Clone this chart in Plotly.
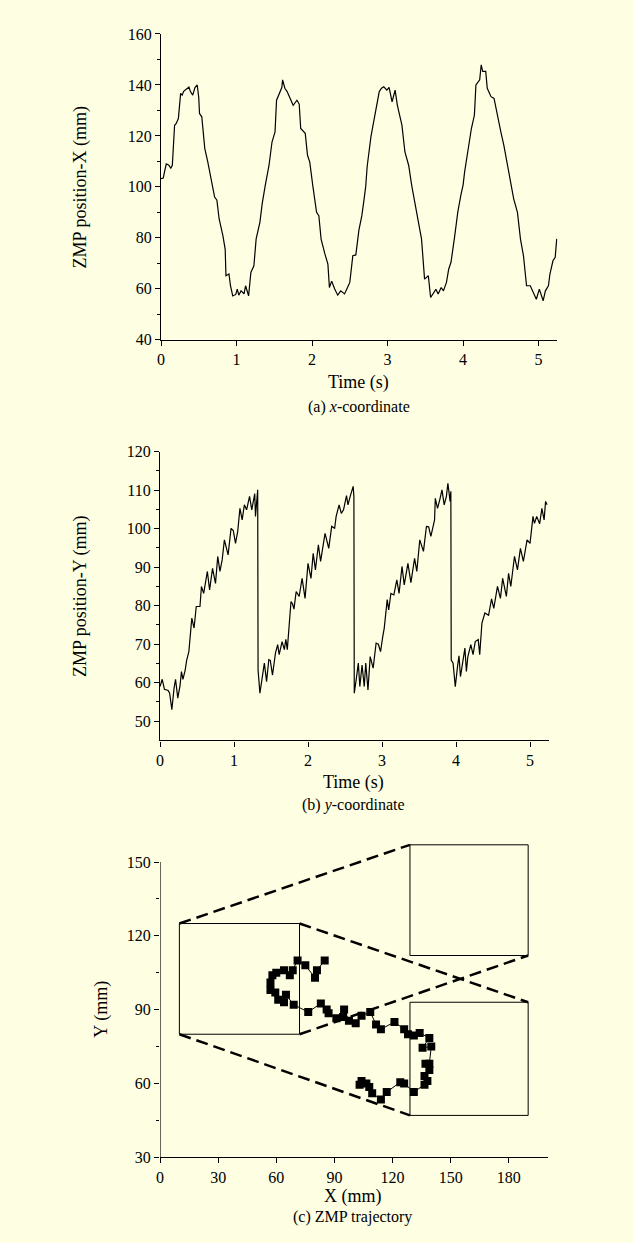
import plotly.graph_objects as go

# ---------------- data ----------------
t_x = [0.00,0.03,0.05,0.07,0.10,0.13,0.15,0.18,0.20,0.23,0.26,0.28,0.30,0.34,0.37,0.39,0.42,0.45,0.48,0.50,
       0.51,0.54,0.58,0.62,0.66,0.69,0.71,0.74,0.77,0.82,0.85,0.86,0.90,0.92,0.95,0.99,1.01,1.03,1.06,1.10,
       1.12,1.16,1.19,1.23,1.26,1.31,1.34,1.38,1.43,1.47,1.51,1.53,1.58,1.60,1.61,1.64,1.67,1.71,1.75,1.80,
       1.83,1.85,1.91,1.94,1.97,2.01,2.06,2.09,2.12,2.17,2.21,2.23,2.26,2.30,2.34,2.38,2.43,2.47,2.50,2.54,
       2.58,2.62,2.66,2.69,2.71,2.73,2.78,2.82,2.86,2.89,2.92,2.95,2.99,3.02,3.06,3.10,3.13,3.17,3.19,3.23,
       3.28,3.32,3.37,3.41,3.45,3.49,3.54,3.57,3.61,3.64,3.67,3.71,3.74,3.78,3.81,3.84,3.89,3.93,3.97,4.00,
       4.02,4.07,4.11,4.15,4.17,4.22,4.24,4.26,4.30,4.32,4.37,4.41,4.46,4.50,4.54,4.59,4.63,4.67,4.72,4.76,
       4.80,4.84,4.89,4.93,4.97,5.01,5.06,5.09,5.13,5.15,5.19,5.22,5.24]
zmp_x = [103.2,103.5,106.4,109.0,108.6,107.4,108.5,124.2,124.8,126.8,136.7,136.0,137.5,138.7,139.2,137.4,136.0,139.0,140.0,135.0,
         128.8,127.5,115.0,109.7,103.2,99.0,96.0,94.8,87.4,80.8,75.5,65.1,65.8,61.2,57.2,57.8,59.9,57.5,59.2,58.0,
         61.2,57.2,66.4,69.0,79.6,86.2,93.4,100.5,108.4,117.6,121.6,134.0,137.4,139.0,142.0,138.7,137.4,134.7,132.0,134.0,
         132.5,122.9,121.0,112.4,109.7,100.5,90.0,88.7,79.5,73.7,69.7,60.5,63.0,59.9,57.5,59.2,58.0,60.5,62.5,73.0,
         73.3,82.9,88.8,95.4,100.0,108.0,119.7,126.2,132.1,137.4,138.7,139.3,138.0,139.0,133.4,138.0,132.0,126.8,124.2,113.7,
         108.4,100.5,92.6,85.4,79.5,63.8,65.1,56.6,58.5,59.8,58.0,60.5,59.2,62.5,67.8,70.4,80.9,90.1,96.7,100.7,
         105.8,115.0,122.9,128.2,140.0,142.0,147.9,145.3,145.3,138.7,135.4,134.7,126.8,121.6,116.3,108.4,100.5,95.3,90.0,79.5,
         72.9,61.2,61.2,58.6,55.9,59.9,55.3,59.2,61.2,65.8,71.0,72.4,79.6]

t_y = [0.00,0.03,0.06,0.11,0.13,0.16,0.19,0.21,0.24,0.27,0.29,0.31,0.34,0.36,0.39,0.41,0.43,0.46,0.49,0.54,
       0.56,0.59,0.64,0.67,0.71,0.75,0.78,0.81,0.84,0.87,0.92,0.96,0.99,1.02,1.05,1.08,1.11,1.14,1.17,1.21,
       1.24,1.28,1.29,1.32,1.325,1.35,1.38,1.41,1.44,1.47,1.49,1.52,1.56,1.59,1.61,1.65,1.68,1.70,1.72,1.75,
       1.77,1.79,1.81,1.84,1.88,1.92,1.96,2.00,2.04,2.07,2.10,2.14,2.17,2.23,2.28,2.32,2.36,2.38,2.42,2.45,
       2.48,2.52,2.54,2.57,2.61,2.62,2.625,2.65,2.68,2.70,2.73,2.76,2.78,2.81,2.84,2.88,2.92,2.95,2.98,3.01,
       3.03,3.07,3.09,3.12,3.16,3.20,3.23,3.27,3.30,3.35,3.39,3.44,3.47,3.51,3.56,3.60,3.63,3.66,3.71,3.72,
       3.75,3.78,3.81,3.84,3.87,3.89,3.92,3.93,3.935,3.96,3.99,4.02,4.04,4.06,4.10,4.12,4.14,4.16,4.20,4.23,
       4.26,4.30,4.32,4.35,4.39,4.44,4.48,4.51,4.56,4.60,4.63,4.68,4.71,4.74,4.79,4.83,4.87,4.91,4.96,5.00,
       5.04,5.06,5.09,5.13,5.16,5.19,5.21,5.23]
zmp_y = [59.0,60.9,58.3,58.0,57.3,53.0,58.6,60.9,56.0,59.2,62.9,60.9,63.3,65.8,68.1,73.9,76.8,74.2,79.8,79.8,
         85.0,83.2,88.9,84.1,89.7,85.8,92.8,88.9,91.9,97.1,93.2,100.1,99.5,96.2,99.3,105.3,102.3,106.2,104.9,108.4,
         104.9,109.1,103.2,110.1,63.3,57.3,61.6,65.1,60.3,66.0,65.8,62.0,67.7,69.9,67.3,70.7,68.6,71.3,68.6,77.7,
         81.1,80.5,79.1,83.7,82.4,87.1,81.9,91.0,87.1,93.6,89.3,95.8,91.5,98.8,94.9,100.6,100.1,103.2,106.2,104.0,
         104.9,108.6,106.2,108.4,111.0,108.4,57.3,60.7,65.1,59.0,64.6,59.0,65.1,58.1,66.8,63.8,70.3,70.0,68.1,72.0,
         74.2,81.6,78.9,83.2,82.8,86.7,83.2,90.2,85.4,91.0,86.0,92.3,88.9,97.1,94.1,100.6,100.5,98.0,102.3,107.9,
         105.3,107.5,110.1,106.2,108.4,111.8,107.1,109.7,65.9,65.1,59.0,64.2,67.0,61.6,65.9,69.0,62.9,66.8,69.9,67.3,
         70.7,71.2,67.3,75.5,78.1,77.5,81.8,79.3,85.0,81.9,87.1,82.4,88.4,85.0,92.8,89.3,94.9,91.5,97.1,96.2,
         103.2,101.4,103.2,101.3,105.3,102.3,107.1,106.2]

traj_x = [85,81,80,75,71,68.5,67,64,60,58,57,57,59.5,61,64,65,69,76.5,83,86,87,91,94.5,95,97.5,101,104,108.5,
          111.5,114,121,126,128,131,134,139,135.5,140,139,137,139,136.5,138,136.5,131,126,124,117,114,109.5,108,106.5,104,103]
traj_y = [110,106,103,108,110,106,104,106,105,104,101,98,97,94,93,96,92,89,92.5,90,88.5,86.5,87,90,85.5,84.5,87.5,89,
          84,82,85,82,80,79.5,80.5,78.5,74.5,75,68,68,65.5,63,61,59.5,56.5,60,60.5,56.5,53.5,56,58.5,60,61,59.5]

# zoom-box outlines and the dashed connectors of panel (c)
boxes = [(10, 80, 72, 125), (129, 112, 190, 157), (129, 47, 190, 93)]
connectors = [((10, 125), (129, 157)), ((72, 125), (190, 93)),
              ((72, 80), (190, 112)), ((10, 80), (129, 47))]

x_ticks_t = [0, 1, 2, 3, 4, 5]
y1_ticks = [40, 60, 80, 100, 120, 140, 160]
y2_ticks = [50, 60, 70, 80, 90, 100, 110, 120]
x3_ticks = [0, 30, 60, 90, 120, 150, 180]
y3_ticks = [30, 60, 90, 120, 150]

# ---------------- figure ----------------
W, H = 633, 1243
BG = '#FEFEE2'
FONT = 'Liberation Serif'

def px_x(p):
    return p / W

def px_y(p):
    # compensate for the slight vertical offset/scale observed in the rendered page
    q = (p - 8) / 0.987
    return 1 - q / H

fig = go.Figure()
fig.add_trace(go.Scatter(x=t_x, y=zmp_x, mode='lines', line=dict(color='black', width=1.2),
                         xaxis='x', yaxis='y', showlegend=False, hoverinfo='skip'))
fig.add_trace(go.Scatter(x=t_y, y=zmp_y, mode='lines', line=dict(color='black', width=1.2),
                         xaxis='x2', yaxis='y2', showlegend=False, hoverinfo='skip'))
fig.add_trace(go.Scatter(x=traj_x, y=traj_y, mode='lines+markers',
                         line=dict(color='black', width=1),
                         marker=dict(symbol='square', size=8, color='black'),
                         xaxis='x3', yaxis='y3', showlegend=False, hoverinfo='skip'))

tickfont = dict(family=FONT, size=16, color='black')
common = dict(showgrid=False, zeroline=False, showline=True, linecolor='black', linewidth=1.2,
              ticks='outside', ticklen=5, tickwidth=1.2, tickcolor='black', tickfont=tickfont)

fig.update_layout(
    width=W, height=H, margin=dict(l=0, r=0, t=0, b=0),
    paper_bgcolor=BG, plot_bgcolor=BG,
    xaxis=dict(domain=[px_x(158), px_x(557)], range=[0, 5.25], anchor='y',
               tickvals=x_ticks_t, **common),
    yaxis=dict(domain=[px_y(340), px_y(34)], range=[40, 160], anchor='x',
               tickvals=y1_ticks,
               minor=dict(tickvals=[50, 70, 90, 110, 130, 150], ticks='outside', ticklen=3,
                          tickcolor='black', tickwidth=1.2),
               **common),
    xaxis2=dict(domain=[px_x(157), px_x(548)], range=[0, 5.25], anchor='y2',
                tickvals=x_ticks_t, **common),
    yaxis2=dict(domain=[px_y(741), px_y(452)], range=[45, 120], anchor='x2',
                tickvals=y2_ticks,
                minor=dict(tickvals=[55, 65, 75, 85, 95, 105, 115], ticks='outside', ticklen=3,
                           tickcolor='black', tickwidth=1.2),
                **common),
    xaxis3=dict(domain=[px_x(157), px_x(547)], range=[0, 200], anchor='y3',
                tickvals=x3_ticks, **common),
    yaxis3=dict(domain=[px_y(1158), px_y(838)], range=[30, 160], anchor='x3',
                tickvals=y3_ticks,
                minor=dict(tickvals=[45, 75, 105, 135], ticks='outside', ticklen=3,
                           tickcolor='black', tickwidth=1.2),
                **{**common, 'showline': False}),
)

shapes = []
# y-axis line of panel (c) drawn only up to 150
shapes.append(dict(type='line', xref='x3', yref='y3', x0=0, x1=0, y0=30, y1=150,
                   line=dict(color='black', width=1.2)))
for (x0, y0, x1, y1) in boxes:
    shapes.append(dict(type='rect', xref='x3', yref='y3', x0=x0, y0=y0, x1=x1, y1=y1,
                       line=dict(color='black', width=1), layer='below'))
for (p, q) in connectors:
    shapes.append(dict(type='line', xref='x3', yref='y3', x0=p[0], y0=p[1], x1=q[0], y1=q[1],
                       line=dict(color='black', width=2.5, dash='12px,6px'), layer='below'))
fig.update_layout(shapes=shapes)

tf = dict(family=FONT, size=18, color='black')
cf = dict(family=FONT, size=16, color='black')
ann = [
    dict(text='ZMP position-X (mm)', x=px_x(77), y=px_y(188), textangle=-90, font=tf),
    dict(text='Time (s)', x=px_x(357), y=px_y(383), font=tf),
    dict(text='(a) <i>x</i>-coordinate', x=px_x(357), y=px_y(407), font=cf),
    dict(text='ZMP position-Y (mm)', x=px_x(77), y=px_y(597), textangle=-90, font=tf),
    dict(text='Time (s)', x=px_x(352), y=px_y(783), font=tf),
    dict(text='(b) <i>y</i>-coordinate', x=px_x(352), y=px_y(806), font=cf),
    dict(text='Y (mm)', x=px_x(98), y=px_y(1010), textangle=-90, font=tf),
    dict(text='X (mm)', x=px_x(351), y=px_y(1197), font=tf),
    dict(text='(c) ZMP trajectory', x=px_x(351), y=px_y(1218), font=cf),
]
for a in ann:
    a.update(xref='paper', yref='paper', showarrow=False, xanchor='center', yanchor='middle')
fig.update_layout(annotations=ann)

fig.write_html('out.html', config={'displayModeBar': False},
               post_script="document.body.style.margin='0';document.body.style.overflow='hidden';")
